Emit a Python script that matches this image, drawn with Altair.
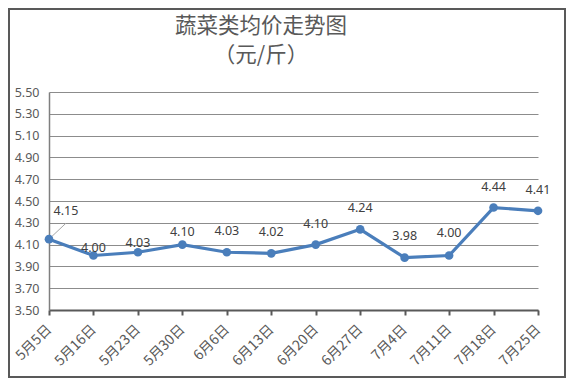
import altair as alt
import pandas as pd

# ---- data ----
dates = ["5月5日", "5月16日", "5月23日", "5月30日", "6月6日", "6月13日",
         "6月20日", "6月27日", "7月4日", "7月11日", "7月18日", "7月25日"]
prices = [4.15, 4.00, 4.03, 4.10, 4.03, 4.02, 4.10, 4.24, 3.98, 4.00, 4.44, 4.41]
y_ticks = [3.50, 3.70, 3.90, 4.10, 4.30, 4.50, 4.70, 4.90, 5.10, 5.30, 5.50]
title_lines = ["蔬菜类均价走势图", "（元/斤）"]

# label nudges (pixels), like Excel's manually placed data labels
label_dx = [17, 0, 0, 0, 0, 0, 0, 0, 0, 0, 0, 0]
label_dy = [-28, -8, -9, -13, -21, -21, -21, -21, -22, -23, -21, -21]

W, H = 489, 218
PAD = {"left": 41, "top": 84, "right": 28, "bottom": 68}

df = pd.DataFrame({"date": dates, "price": prices,
                   "label": [f"{p:.2f}" for p in prices],
                   "dx": label_dx, "dy": label_dy})

TEXT = "#595959"
LINE = "#4A7EBB"
CJK = "Noto Sans CJK SC"
NUM = "Noto Sans"

x_scale = alt.Scale(type="point", padding=0, domain=dates)
x_enc = alt.X("date:N", sort=dates, title=None, scale=x_scale,
              axis=alt.Axis(labelAngle=-45, labelFont=CJK, labelFontSize=14,
                            labelColor=TEXT, labelAlign="right",
                            labelBaseline="middle", labelPadding=12,
                            labelOverlap=False,
                            domainColor=TEXT, domainWidth=2,
                            ticks=True, tickSize=5, tickColor=TEXT, tickWidth=2,
                            grid=False))
y_enc = alt.Y("price:Q", title=None,
              scale=alt.Scale(domain=[3.5, 5.5], nice=False, zero=False),
              axis=alt.Axis(values=y_ticks, tickCount=len(y_ticks), format=".2f",
                            labelFont=NUM, labelFontSize=12.5, labelColor=TEXT,
                            labelPadding=10, labelOverlap=False,
                            ticks=False, grid=True, gridColor="#8c8c8c",
                            gridWidth=1, domainColor="#7f7f7f", domainWidth=1.5))

base = alt.Chart(df)

line = base.mark_line(color=LINE, strokeWidth=3.2).encode(x=x_enc, y=y_enc)
pts = base.mark_point(filled=True, color=LINE, size=75, opacity=1).encode(
    x=x_enc, y=y_enc)

label_layers = []
for dx, dy in sorted(set(zip(label_dx, label_dy))):
    label_layers.append(
        base.transform_filter(
            (alt.datum.dx == dx) & (alt.datum.dy == dy)
        ).mark_text(font=NUM, fontSize=12.5, color="#404040", baseline="middle",
                    dx=dx, dy=dy).encode(x=x_enc, y=y_enc, text="label:N"))

leader = alt.Chart(df.iloc[[0]]).mark_rule(
    color="#a6a6a6", strokeWidth=1, x2Offset=17, y2Offset=-16).encode(
    x=x_enc, y=y_enc, x2="date:N", y2="price:Q")

title_layers = []
for i, t in enumerate(title_lines):
    title_layers.append(
        alt.Chart(pd.DataFrame({"t": [t]})).mark_text(
            font=CJK, fontSize=21.5, color=TEXT, baseline="middle", align="center"
        ).encode(text="t:N", x=alt.value(212), y=alt.value(-65 + 29 * i)))

border = alt.Chart(pd.DataFrame({"a": [0]})).mark_rect(
    fill="transparent", stroke="#595959", strokeWidth=2).encode(
    x=alt.value(-40), x2=alt.value(W + PAD["right"] - 1),
    y=alt.value(-PAD["top"] + 1), y2=alt.value(H + PAD["bottom"] - 1))

chart = alt.layer(line, leader, pts, *label_layers, *title_layers, border).properties(
    width=W, height=H, padding=PAD,
    autosize=alt.AutoSizeParams(type="none"),
    background="white",
).configure_view(strokeWidth=0)

chart.save("out.html", embed_options={"renderer": "svg", "actions": False})
